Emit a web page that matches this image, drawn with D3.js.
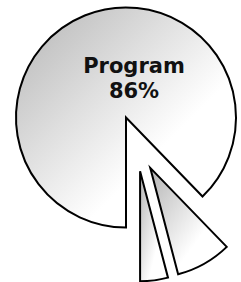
<!DOCTYPE html>
<html>
<head>
<meta charset="utf-8">
<script src="https://cdn.jsdelivr.net/npm/d3@7"></script>
<style>
  body { margin: 0; background: #fff; }
  svg { display: block; }
</style>
</head>
<body>
<div id="chart"></div>
<script>
// datos del gráfico
const labels = ["Program", "Otro A", "Otro B"];
const values = [86, 4, 8];
const exploded = [false, true, true];

const width = 241, height = 282;
const cx = 126, cy = 117.5, radius = 110;

const svg = d3.select("#chart")
    .append("svg")
    .attr("width", width)
    .attr("height", height);

// degradado gris -> blanco (diagonal)
const grad = svg.append("defs")
    .append("linearGradient")
    .attr("id", "fillGrad")
    .attr("x1", 0).attr("y1", 0)
    .attr("x2", 1).attr("y2", 1);
grad.append("stop").attr("offset", "0%").attr("stop-color", "#b4b4b4");
grad.append("stop").attr("offset", "65%").attr("stop-color", "#ffffff");

const data = labels.map((l, i) => ({ label: l, value: values[i], exploded: exploded[i] }));

const pie = d3.pie()
    .value(d => d.value)
    .startAngle(Math.PI)
    .endAngle(3 * Math.PI);
const arcs = pie(data);

const arc = d3.arc().innerRadius(0).outerRadius(radius);

// angulo medio del grupo de porciones separadas
const out = arcs.filter(a => a.data.exploded);
const groupMid = (d3.min(out, a => a.startAngle) + d3.max(out, a => a.endAngle)) / 2;

function offset(a) {
    if (!a.data.exploded) return [0, 0];
    const mid = (a.startAngle + a.endAngle) / 2;
    const d = 28;
    return [
        d * Math.sin(groupMid) + d * Math.sin(mid),
        -d * Math.cos(groupMid) - d * Math.cos(mid)
    ];
}

const g = svg.append("g").attr("transform", `translate(${cx},${cy})`);

g.selectAll("path")
    .data(arcs)
    .enter()
    .append("path")
    .attr("transform", d => `translate(${offset(d)})`)
    .attr("d", arc)
    .attr("fill", "url(#fillGrad)")
    .attr("stroke", "#000")
    .attr("stroke-width", 2)
    .attr("stroke-linejoin", "miter");

// etiqueta de la porción principal
const main = arcs.find(a => !a.data.exploded);
const pct = d3.format(".0f")(main.data.value) + "%";
const lbl = g.append("text")
    .attr("text-anchor", "middle")
    .attr("font-family", "DejaVu Sans")
    .attr("font-weight", "bold")
    .attr("font-size", "21px")
    .attr("fill", "#111");
lbl.append("tspan").attr("x", 8).attr("y", -44.5).text(main.data.label);
lbl.append("tspan").attr("x", 8).attr("y", -19.5).text(pct);
</script>
</body>
</html>
